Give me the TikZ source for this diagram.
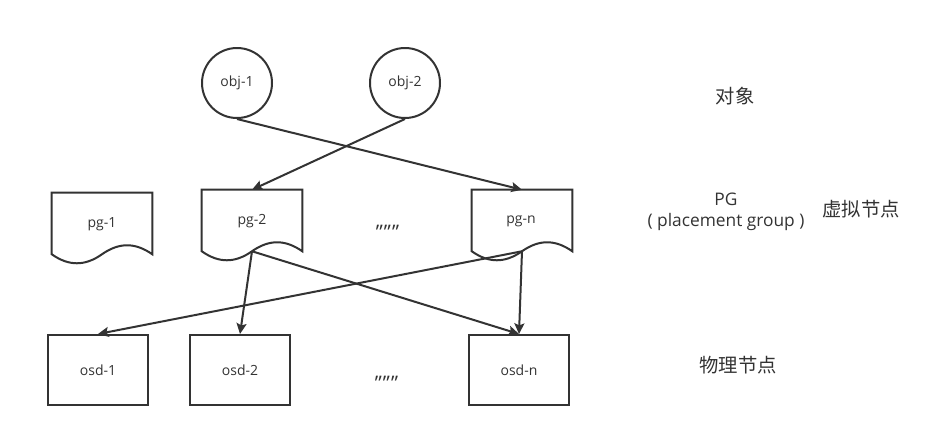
\documentclass[tikz,border=0pt]{standalone}
\usepackage{fontspec}
\setmainfont{Open Sans}
\newfontfamily\cjk{Noto Sans CJK SC}
\usetikzlibrary{arrows.meta,calc}
\definecolor{ink}{HTML}{333333}
\tikzset{
  lbl/.style={font=\fontsize{10.5}{12}\selectfont, text=ink},
  dotlbl/.style={font=\fontsize{15}{16}\selectfont, text=ink},
  biglbl/.style={font=\fontsize{13}{16}\selectfont, text=ink, align=center},
  cjklbl/.style={font=\cjk\fontsize{14.5}{16}\selectfont, text=ink},
  objnode/.style={circle, draw=ink, line width=1.5pt, minimum size=52.5pt, inner sep=0pt, lbl},
  docnode/.style={rectangle, minimum width=75pt, minimum height=45.75pt, inner sep=0pt, lbl},
  osdnode/.style={rectangle, draw=ink, line width=1.5pt, minimum width=75pt, minimum height=52.5pt, inner sep=0pt, lbl},
  docline/.style={draw=ink, line width=1.5pt, line join=miter},
  conn/.style={draw=ink, line width=1.5pt, -{Stealth[length=8pt,width=7.5pt,inset=1.5pt]}},
}
\newcommand\docshape[1]{%
  \path[docline] (#1.south west) -- (#1.north west) -- (#1.north east) -- (#1.south east)
    .. controls ($(#1.south east)+(-17,-12)$) and ($(#1.south)+(17,-12)$) .. (#1.south)
    .. controls ($(#1.south)+(-17,12)$) and ($(#1.south west)+(17,12)$) .. (#1.south west) -- cycle;}
\begin{document}
\begin{tikzpicture}[x=0.75pt,y=-0.75pt]
\useasboundingbox (0,0) rectangle (939,437);
% objects
\node[objnode] (obj1) at (237,83) {obj-1};
\node[objnode] (obj2) at (405,83) {obj-2};
% placement groups
\node[docnode] (pg1) at (102,223.5) {};
\node[docnode] (pg2) at (252,220.5) {};
\node[docnode] (pgn) at (522,220.5) {};
\docshape{pg1}
\docshape{pg2}
\docshape{pgn}
\node[lbl] (pg1t) at (102,224) {pg-1};
\node[lbl] (pg2t) at (252,221) {pg-2};
\node[lbl] (pgnt) at (521,221) {pg-n};
\node[dotlbl] (dots1) at (388,228) {,,,,,,};
% osds
\node[osdnode] (osd1) at (98,370) {osd-1};
\node[osdnode] (osd2) at (240,370) {osd-2};
\node[osdnode] (osdn) at (519,370) {osd-n};
\node[dotlbl] (dots2) at (387,379) {,,,,,,};
% labels
\node[cjklbl] (l1) at (735,96) {对象};
\node[biglbl] (l2) at (726,212) {PG\\( placement group )};
\node[cjklbl] (l3) at (861,209) {虚拟节点};
\node[cjklbl] (l4) at (738,365) {物理节点};
% connectors
\draw[conn] (obj1.south) -- (pgn.north);
\draw[conn] (obj2.south) -- (pg2.north);
\draw[conn] (pg2.south) -- (osd2.north);
\draw[conn] (pg2.south) -- (osdn.north);
\draw[conn] (pgn.south) -- (osd1.north);
\draw[conn] (pgn.south) -- (osdn.north);
\end{tikzpicture}
\end{document}
